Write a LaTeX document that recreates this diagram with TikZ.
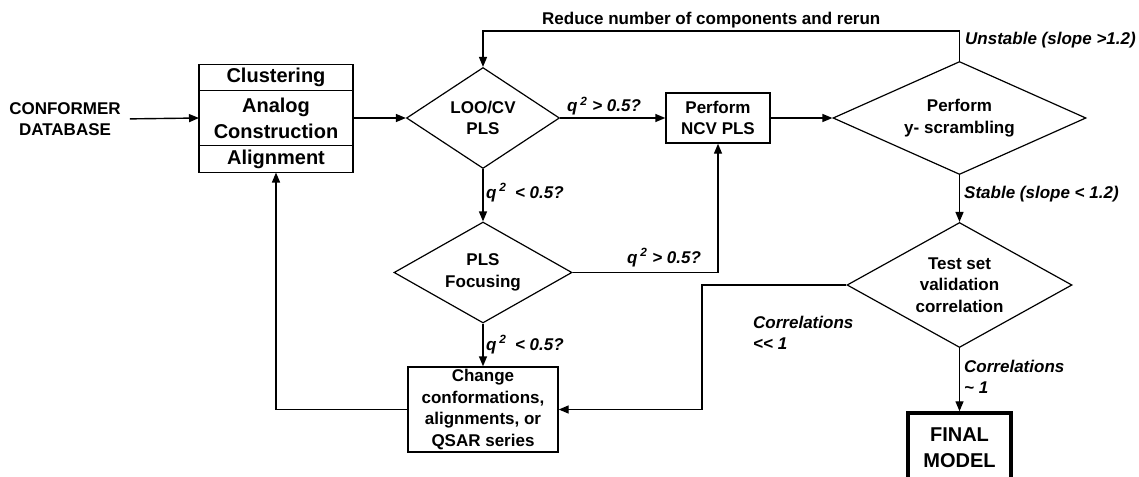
\documentclass[tikz,border=0pt]{standalone}
\usepackage{fontspec}
\setmainfont{Liberation Sans}
\usetikzlibrary{shapes.geometric}
\usetikzlibrary{arrows.meta}
\usetikzlibrary{positioning}
\def\fclinewidth{1.4pt}
\def\fcfont{\bfseries\fontsize{17}{21.5}\selectfont}
\def\fcbigfont{\bfseries\fontsize{20}{26}\selectfont}

\begin{document}
\begin{tikzpicture}[x=1pt,y=-1pt,
    every node/.style={font=\fcfont, align=center, inner sep=0pt},
    fc_box/.style={draw, line width=\fclinewidth},
    fc_stack/.style={fc_box, font=\fcbigfont, outer sep=0pt, minimum width=154pt},
    fc_decision/.style={diamond, draw, line width=1.2pt},
    fc_arrow/.style={line width=\fclinewidth, -{Triangle[length=10pt,width=8pt]}},
    fc_label/.style={font=\bfseries\itshape\fontsize{17}{21}\selectfont, align=left}
]
            \useasboundingbox (0,0) rectangle (1139,476);
            % input
            \node (conf) at (65,119) {CONFORMER\\DATABASE};
            % preparation box
            \node[fc_stack, minimum height=26pt] (clus) at (276,77.5) {Clustering};
            \node[fc_stack, minimum height=55pt, below=0pt of clus] (anal) {Analog\\Construction};
            \node[fc_stack, minimum height=27pt, below=0pt of anal] (algn) {Alignment};
            % decisions
            \node[fc_decision, minimum width=153pt, minimum height=101pt, aspect=1.5] (loo) at (483,118) {LOO/CV\\PLS};
            \node[fc_decision, minimum width=178pt, minimum height=101pt, aspect=1.76] (pls) at (483,272.5) {PLS\\Focusing};
            \node[fc_decision, minimum width=253pt, minimum height=113pt, aspect=2.2] (yscr) at (959.5,118) {Perform\\y- scrambling};
            \node[fc_decision, minimum width=225pt, minimum height=125pt, aspect=1.8] (test) at (959.5,285) {Test set\\validation\\correlation};
            % boxes
            \node[fc_box, minimum width=104pt, minimum height=50pt] (ncv) at (718,118) {Perform\\NCV PLS};
            \node[fc_box, minimum width=150pt, minimum height=85pt] (chg) at (483,409.5) {Change\\conformations,\\alignments, or\\QSAR series};
            \node[draw, line width=3.5pt, font=\fcbigfont, minimum width=103pt, minimum height=70pt] (final) at (959.5,448) {FINAL\\MODEL};
            % turning points
            \coordinate (redo) at (720,31);
            \coordinate (fail) at (702,409.5);
            % connectors
            \draw[fc_arrow, shorten <=9pt] (conf.east) -- (anal.west);
            \draw[fc_arrow] (anal) -- (loo);
            \draw[fc_arrow] (loo) -- (ncv);
            \draw[fc_arrow] (ncv) -- (yscr);
            \draw[fc_arrow] (yscr.north) |- (redo) -| (loo.north);
            \draw[fc_arrow] (yscr) -- (test);
            \draw[fc_arrow] (test) -- (final);
            \draw[fc_arrow] (test.west) -| (fail) -- (chg.east);
            \draw[fc_arrow] (loo) -- (pls);
            \draw[fc_arrow] (pls.east) -| (ncv.south);
            \draw[fc_arrow] (pls) -- (chg);
            \draw[fc_arrow] (chg.west) -| (algn.south);
            % labels
            \node[fc_label, anchor=base west] (qa) at (567,112) {q\,\textsuperscript{2} > 0.5?};
            \node[fc_label, anchor=base west] (qb) at (486,198) {q\,\textsuperscript{2}\enskip< 0.5?};
            \node[fc_label, anchor=base west] (qc) at (627,263) {q\,\textsuperscript{2} > 0.5?};
            \node[fc_label, anchor=base west] (qd) at (486,350) {q\,\textsuperscript{2}\enskip< 0.5?};
            \node[anchor=base west] (rerun) at (542,25) {Reduce number of components and rerun};
            \node[fc_label, anchor=base west] (unst) at (965,45) {Unstable (slope >1.2)};
            \node[fc_label, anchor=base west] (stab) at (964,198) {Stable (slope < 1.2)};
            \node[fc_label, anchor=north west] (cgood) at (964,359.5) {Correlations\\\textasciitilde\ 1};
            \node[fc_label, anchor=north west] (cbad) at (753,315.5) {Correlations\\<\kern0pt< 1};
\end{tikzpicture}
\end{document}
